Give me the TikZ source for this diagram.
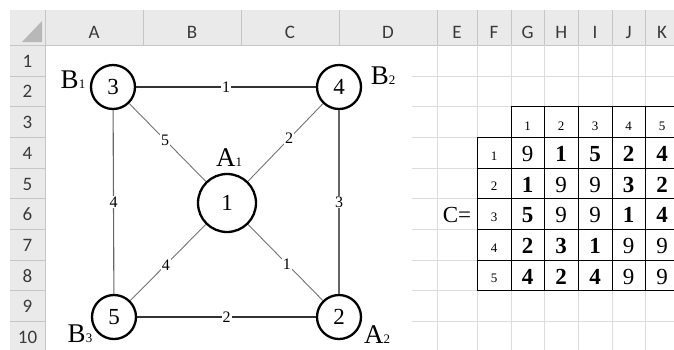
\documentclass[tikz,border=0pt]{standalone}
\usepackage{fontspec}
\setmainfont{Liberation Serif}
\newfontfamily\hdrfont{Carlito}
\definecolor{hdrbg}{HTML}{EAEAEA}
\definecolor{hdrline}{HTML}{C6C6C6}
\definecolor{gridc}{HTML}{DCDCDC}
\definecolor{hdrtxt}{HTML}{3A3A3A}
\begin{document}
\begin{tikzpicture}[x=1pt,y=-1pt,
    vtx/.style={circle,draw,line width=2.3pt,fill=white,minimum size=44pt,inner sep=0pt,
        font=\fontsize{23}{23}\selectfont},
    bigvtx/.style={vtx,minimum size=58pt},
    wt/.style={fill=white,text=black,inner sep=1pt,font=\fontsize{16}{16}\selectfont},
    tag/.style={anchor=base,inner sep=0pt,font=\fontsize{27}{27}\selectfont},
    hdr/.style={anchor=base,text=hdrtxt,font=\hdrfont\fontsize{19}{19}\selectfont},
    cellnum/.style={anchor=base,font=\fontsize{23}{23}\selectfont},
    idx/.style={anchor=base,font=\fontsize{13}{13}\selectfont}]
    \useasboundingbox (0,0) rectangle (674,349);
    \clip (0,0) rectangle (674,349);

    % sheet: headers and grid
    \fill[hdrbg] (10,10) rectangle (680,45);
    \fill[hdrbg] (10,10) rectangle (45,352);
    \fill[black!28] (22,42) -- (42,42) -- (42,21) -- cycle;
    \draw[hdrline] (45,10) -- (45,352);
    \draw[hdrline] (10,45) -- (680,45);
    \foreach \yy in {75.7,106.4,137.1,167.8,198.5,229.2,259.9,290.6,321.3}{
        \draw[hdrline] (10,\yy) -- (45,\yy);
        \draw[gridc] (412,\yy) -- (680,\yy);
    }
    \foreach \xx in {143,241,339,437,477,511,544.5,578,612,645.5}{
        \draw[hdrline] (\xx,10) -- (\xx,45);
    }
    \foreach \xx in {437,477,511,544.5,578,612,645.5}{
        \draw[gridc] (\xx,45) -- (\xx,352);
    }
    \foreach \xx/\lab in {94/A,192/B,290/C,388/D,457/E,494/F,527.7/G,561.2/H,595/I,628.7/J,662/K}{
        \node[hdr] at (\xx,38) {\lab};
    }
    \foreach \r in {1,...,10}{
        \pgfmathsetmacro{\yy}{45+30.7*\r-8.5}
        \node[hdr] at (27.5,\yy) {\r};
    }

    % graph
    \node[vtx] (v3) at (113,87) {3};
    \node[vtx] (v4) at (339,87) {4};
    \node[bigvtx] (v1) at (227,203) {1};
    \node[vtx] (v5) at (114,317) {5};
    \node[vtx] (v2) at (339,317) {2};

    \draw[black!80,line width=1.2pt] (v3) -- node[wt] {1} (v4);
    \draw[black!80,line width=1.2pt] (v5) -- node[wt] {2} (v2);
    \draw[black!60,line width=1.1pt] (v3) -- node[wt] {4} (v5);
    \draw[black!60,line width=1.1pt] (v4) -- node[wt] {3} (v2);
    \draw[black!55,line width=0.9pt] (v3) -- node[wt,pos=0.47] {5} (v1);
    \draw[black!55,line width=0.9pt] (v1) -- node[wt,pos=0.55] {2} (v4);
    \draw[black!55,line width=0.9pt] (v5) -- node[wt,pos=0.47] {4} (v1);
    \draw[black!55,line width=0.9pt] (v1) -- node[wt,pos=0.52] {1} (v2);

    \node[tag] (b1) at (73,88) {B\fontsize{13}{13}\selectfont 1};
    \node[tag] (a1) at (229,166) {A\fontsize{13}{13}\selectfont 1};
    \node[tag] (b2) at (383,84) {B\fontsize{13}{13}\selectfont 2};
    \node[tag] (b3) at (80,342) {B\fontsize{13}{13}\selectfont 3};
    \node[tag] (a2) at (377,343) {A\fontsize{13}{13}\selectfont 2};

    % cost matrix
    \fill[white] (511.5,106.9) rectangle (680,136.6);
    \fill[white] (477.5,137.6) rectangle (680,290.1);
    \draw (511,106.4) rectangle (680,137.1);
    \draw (477,137.1) rectangle (680,290.6);
    \foreach \xx in {544.5,578,612,645.5}{
        \draw (\xx,106.4) -- (\xx,290.6);
    }
    \draw (511,137.1) -- (511,290.6);
    \foreach \yy in {167.8,198.5,229.2,259.9}{
        \draw (477,\yy) -- (680,\yy);
    }
    \foreach \c/\xx in {1/527.7,2/561.2,3/595,4/628.7,5/662}{
        \node[idx] (h\c) at (\xx,130) {\c};
    }
    \foreach \r/\yy in {1/161.5,2/192.2,3/222.9,4/253.6,5/284.3}{
        \node[idx] (r\r) at (494,\yy-1.5) {\r};
    }
    \foreach \r/\yy/\ra/\rb/\rc/\rd/\re in {
        1/161.5/9/\bfseries 1/\bfseries 5/\bfseries 2/\bfseries 4,
        2/192.2/\bfseries 1/9/9/\bfseries 3/\bfseries 2,
        3/222.9/\bfseries 5/9/9/\bfseries 1/\bfseries 4,
        4/253.6/\bfseries 2/\bfseries 3/\bfseries 1/9/9,
        5/284.3/\bfseries 4/\bfseries 2/\bfseries 4/9/9}{
        \node[cellnum] (m\r a) at (527.7,\yy) {\ra};
        \node[cellnum] (m\r b) at (561.2,\yy) {\rb};
        \node[cellnum] (m\r c) at (595,\yy) {\rc};
        \node[cellnum] (m\r d) at (628.7,\yy) {\rd};
        \node[cellnum] (m\r e) at (662,\yy) {\re};
    }
    \node[cellnum] (ceq) at (457,222.9) {C=};
\end{tikzpicture}
\end{document}
